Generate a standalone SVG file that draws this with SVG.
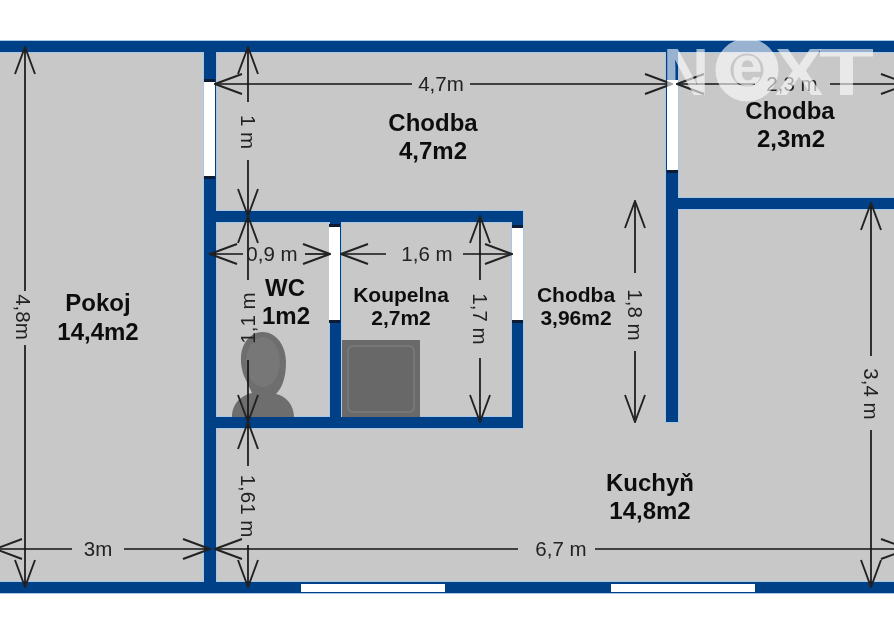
<svg xmlns="http://www.w3.org/2000/svg" width="894" height="625" viewBox="0 0 894 625">
<style>
text{font-family:"Liberation Sans",Arial,sans-serif;text-anchor:middle}
.w{fill:#003f87}
.o{fill:#fff}
.c{fill:#0c1c30}
.b{font-weight:bold;font-size:24px;fill:#111}
.s{font-weight:bold;font-size:21px;fill:#111}
.d{font-size:20.5px;fill:#222}
.h{stroke:#151515;stroke-width:1.7;fill:none}
.wm{fill:#fff;fill-opacity:.6;font-weight:bold;font-size:67px}
</style>
<defs>
<marker id="a" markerUnits="userSpaceOnUse" markerWidth="30" markerHeight="26" refX="29" refY="13" orient="auto-start-reverse" viewBox="0 0 30 26">
<path d="M2 3L29 13L2 23" fill="none" stroke="#222" stroke-width="1.9"/>
</marker>
<filter id="soft" x="-2%" y="-2%" width="104%" height="104%"><feGaussianBlur stdDeviation="0.45"/></filter>
</defs>
<rect width="894" height="625" fill="#fff"/>
<g filter="url(#soft)">
<g id="floor"><rect x="0" y="41" width="894" height="552" fill="#c8c8c8"/></g>
<use id="wall-edge" href="#walls" style="stroke:#a9c7e6;stroke-width:2"/>
<g id="walls">
<rect class="w" x="0" y="41" width="894" height="11"/>
<rect class="w" x="0" y="582" width="894" height="11"/>
<rect class="w" x="204" y="41" width="12" height="552"/>
<rect class="w" x="204" y="211" width="319" height="11"/>
<rect class="w" x="204" y="417" width="319" height="11"/>
<rect class="w" x="330" y="211" width="11" height="217"/>
<rect class="w" x="512" y="211" width="11" height="217"/>
<rect class="w" x="666" y="41" width="12" height="381"/>
<rect class="w" x="666" y="198" width="228" height="11"/>
</g>
<g id="openings">
<rect class="c" x="204" y="79" width="11" height="100"/>
<rect class="c" x="329" y="224" width="11" height="99"/>
<rect class="c" x="512" y="225" width="11" height="98"/>
<rect class="c" x="667" y="170" width="11" height="3"/>
<rect class="o" x="204" y="82" width="11" height="94"/>
<rect class="o" x="329" y="227" width="11" height="93"/>
<rect class="o" x="512" y="228" width="11" height="92"/>
<rect class="o" x="667" y="80" width="11" height="90"/>
<rect class="o" x="301" y="584" width="144" height="8"/>
<rect class="o" x="611" y="584" width="144" height="8"/>
</g>
<g id="fixtures">
<g id="toilet">
<path d="M232 417C232 403 242 395 252 393L244 376C238 360 240 340 256 333C272 328 286 342 286 362C286 378 282 388 276 394C286 396 294 405 294 417Z" fill="#6e6e6e"/>
<ellipse cx="263" cy="362" rx="17" ry="25" fill="#777"/>
</g>
<g id="bath">
<rect x="342" y="340" width="78" height="77" fill="#6b6b6b"/>
<rect x="348" y="346" width="66" height="66" rx="5" fill="#676767" stroke="#7c7c7c" stroke-width="1.5"/>
</g>
</g>
<g id="connectors">
<path class="h" marker-start="url(#a)" d="M25 47V291"/><path class="h" marker-end="url(#a)" d="M25 345V587"/>
<path class="h" marker-start="url(#a)" d="M-5 549H72"/><path class="h" marker-end="url(#a)" d="M124 549H210"/>
<path class="h" marker-start="url(#a)" d="M248 47V102"/><path class="h" marker-end="url(#a)" d="M248 160V216"/>
<path class="h" marker-start="url(#a)" d="M215 84H412"/><path class="h" marker-end="url(#a)" d="M470 84H672"/>
<path class="h" marker-start="url(#a)" d="M677 84H755"/><path class="h" marker-end="url(#a)" d="M830 84H908"/>
<path class="h" marker-start="url(#a)" d="M210 254H243"/><path class="h" marker-end="url(#a)" d="M305 254H330"/>
<path class="h" marker-start="url(#a)" d="M341 254H386"/><path class="h" marker-end="url(#a)" d="M463 254H512"/>
<path class="h" marker-start="url(#a)" d="M248 216V280"/><path class="h" marker-end="url(#a)" d="M248 360V422"/>
<path class="h" marker-start="url(#a)" d="M480 216V280"/><path class="h" marker-end="url(#a)" d="M480 358V422"/>
<path class="h" marker-start="url(#a)" d="M248 422V466"/><path class="h" marker-end="url(#a)" d="M248 545V587"/>
<path class="h" marker-start="url(#a)" d="M215 549H518"/><path class="h" marker-end="url(#a)" d="M595 549H908"/>
<path class="h" marker-start="url(#a)" d="M635 201V273"/><path class="h" marker-end="url(#a)" d="M635 351V422"/>
<path class="h" marker-start="url(#a)" d="M871 203V356"/><path class="h" marker-end="url(#a)" d="M871 430V587"/>
</g>
<g id="dimension-labels">
<text class="d" transform="translate(16,317) rotate(90)">4,8m</text>
<text class="d" x="98" y="556">3m</text>
<text class="d" transform="translate(241,132) rotate(90)">1 m</text>
<text class="d" x="441" y="91">4,7m</text>
<text class="d" x="792" y="91">2,3 m</text>
<text class="d" x="272" y="261">0,9 m</text>
<text class="d" x="427" y="261">1,6 m</text>
<text class="d" transform="translate(473,319) rotate(90)">1,7 m</text>
<text class="d" transform="translate(255,318) rotate(-90)">1,1 m</text>
<text class="d" transform="translate(241,506) rotate(90)">1,61 m</text>
<text class="d" x="561" y="556">6,7 m</text>
<text class="d" transform="translate(628,315) rotate(90)">1,8 m</text>
<text class="d" transform="translate(864,394) rotate(90)">3,4 m</text>
</g>
<g id="room-pokoj"><text class="b" x="98" y="311">Pokoj</text><text class="b" x="98" y="340">14,4m2</text></g>
<g id="room-chodba-47"><text class="b" x="433" y="131">Chodba</text><text class="b" x="433" y="159">4,7m2</text></g>
<g id="room-chodba-23"><text class="b" x="790" y="119">Chodba</text><text class="b" x="791" y="147">2,3m2</text></g>
<g id="room-wc"><text class="b" x="285" y="296">WC</text><text class="b" x="286" y="324">1m2</text></g>
<g id="room-koupelna"><text class="s" x="401" y="302">Koupelna</text><text class="s" x="401" y="325">2,7m2</text></g>
<g id="room-chodba-396"><text class="s" x="576" y="302">Chodba</text><text class="s" x="576" y="325">3,96m2</text></g>
<g id="room-kuchyn"><text class="b" x="650" y="491">Kuchyň</text><text class="b" x="650" y="519">14,8m2</text></g>
</g>
<g id="watermark">
<text class="wm" x="663" y="95" style="text-anchor:start" textLength="46" lengthAdjust="spacingAndGlyphs">N</text>
<circle cx="747" cy="70" r="24" fill="none" stroke="#fff" stroke-opacity=".6" stroke-width="15"/>
<text class="wm" x="747" y="85" style="font-size:56px">e</text>
<text class="wm" x="775" y="95" style="text-anchor:start" textLength="48" lengthAdjust="spacingAndGlyphs">X</text>
<text class="wm" x="819" y="95" style="text-anchor:start" textLength="55" lengthAdjust="spacingAndGlyphs">T</text>
</g>
</svg>
